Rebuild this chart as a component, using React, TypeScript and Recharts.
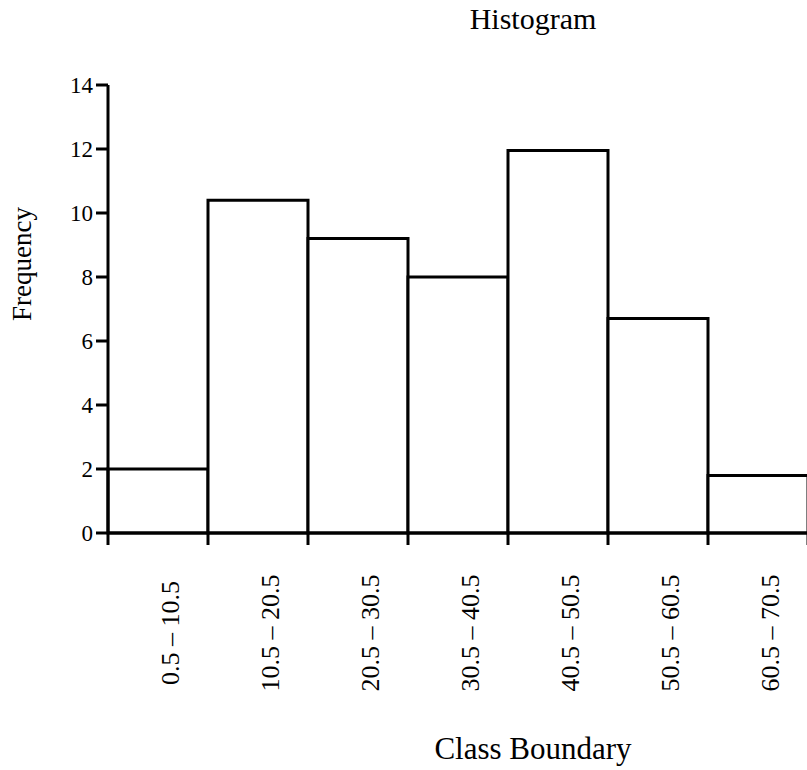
import React from 'react';
import { BarChart, Bar, XAxis, YAxis, LabelList } from 'recharts';

const classes = [
  '0.5 – 10.5',
  '10.5 – 20.5',
  '20.5 – 30.5',
  '30.5 – 40.5',
  '40.5 – 50.5',
  '50.5 – 60.5',
  '60.5 – 70.5',
];
const frequencies = [2, 10.4, 9.2, 8, 11.95, 6.7, 1.8];
const frequencyTicks = [0, 2, 4, 6, 8, 10, 12, 14];
const boundaryTicks = [0, 1, 2, 3, 4, 5, 6, 7];

// start = index of the class's lower boundary, used by the boundary axis
const data = classes.map((label, i) => ({ label, start: i, frequency: frequencies[i] }));

const FONT = '"Liberation Serif", "Times New Roman", serif';
const line = { stroke: '#000', strokeWidth: 3 };

const FreqTick = (props: any) => {
  const { x, y, payload } = props;
  return (
    <text x={x} y={y} dy="0.35em" textAnchor="end" fontFamily={FONT} fontSize={23} fill="#000">
      {payload.value}
    </text>
  );
};

// rotated class label hanging under each bar
const ClassLabel = (props: any) => {
  const { x, y, width, height, value } = props;
  const cx = Number(x) + Number(width) / 2 + 12;
  const cy = Number(y) + Number(height) + 100;
  return (
    <text
      transform={`translate(${cx},${cy}) rotate(-90)`}
      textAnchor="middle"
      dy="0.35em"
      fontFamily={FONT}
      fontSize={26}
      fill="#000"
    >
      {value}
    </text>
  );
};

export default function App() {
  return (
    <div style={{ position: 'absolute', left: 0, top: 0, width: 807, height: 770, overflow: 'hidden', background: '#fff' }}>
      <BarChart
        width={812}
        height={770}
        data={data}
        margin={{ top: 85, right: 4, bottom: 207, left: 0 }}
        barCategoryGap={0}
      >
        <XAxis dataKey="label" hide height={0} />
        <XAxis
          xAxisId="edges"
          dataKey="start"
          type="number"
          domain={[0, 7]}
          ticks={boundaryTicks}
          allowDataOverflow
          tickFormatter={() => ''}
          tickSize={12}
          height={30}
          axisLine={line}
          tickLine={line}
        />
        <YAxis
          width={108}
          domain={[0, 14]}
          ticks={frequencyTicks}
          interval={0}
          tickSize={12}
          tickMargin={3}
          axisLine={line}
          tickLine={line}
          tick={<FreqTick />}
        />
        <Bar dataKey="frequency" fill="#fff" stroke="#000" strokeWidth={3} isAnimationActive={false}>
          <LabelList dataKey="label" content={ClassLabel} />
        </Bar>
      </BarChart>
      <svg
        width={807}
        height={770}
        style={{ position: 'absolute', left: 0, top: 0, pointerEvents: 'none' }}
      >
        <text x={533} y={29} textAnchor="middle" fontFamily={FONT} fontSize={30} fill="#000">
          Histogram
        </text>
        <text x={533} y={759} textAnchor="middle" fontFamily={FONT} fontSize={31} fill="#000">
          Class Boundary
        </text>
        <text
          transform="translate(31,264) rotate(-90)"
          textAnchor="middle"
          fontFamily={FONT}
          fontSize={27}
          fill="#000"
        >
          Frequency
        </text>
      </svg>
    </div>
  );
}
